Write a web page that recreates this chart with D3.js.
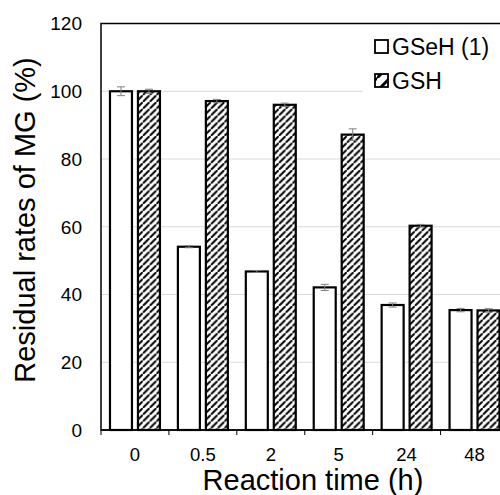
<!DOCTYPE html>
<html>
<head>
<meta charset="utf-8">
<script src="https://cdn.jsdelivr.net/npm/d3@7"></script>
<style>
    body { margin: 0; background: #fff; }
    text { font-family: Arial, 'Liberation Sans', sans-serif; fill: #000; }
</style>
</head>
<body>
<svg id="chart"></svg>
<script>
let categories = ['0', '0.5', '2', '5', '24', '48'];
let seriesNames = ['GSeH (1)', 'GSH'];
let gseh = [100, 54.1, 46.8, 42.1, 36.9, 35.4];
let gsh = [100, 97.1, 96.0, 87.2, 60.3, 35.3];
let gsehErr = [1.3, 0.3, 0.3, 0.9, 0.6, 0.5];
let gshErr = [0.6, 0.5, 0.5, 1.7, 0.4, 0.5];
let yTicks = [0, 20, 40, 60, 80, 100, 120];

let width = 500, height = 495;
let svg = d3.select('#chart').attr('width', width).attr('height', height);

let plot = {left: 101, right: 508.5, top: 23.5, bottom: 430};

let defs = svg.append('defs');
function addHatch(id, size, sw) {
    let p = defs.append('pattern')
        .attr('id', id)
        .attr('patternUnits', 'userSpaceOnUse')
        .attr('width', size)
        .attr('height', size);
    p.append('rect').attr('width', size).attr('height', size).attr('fill', '#fff');
    p.append('path')
        .attr('d', 'M-1,' + (size + 1) + ' L' + (size + 1) + ',-1 M-2,1 L1,-2 M' + (size - 1) + ',' + (size + 2) + ' L' + (size + 2) + ',' + (size - 1))
        .attr('stroke', '#000')
        .attr('stroke-width', sw);
}
addHatch('hatch', 6.8, 2);
addHatch('hatchLegend', 13, 3);

let x = d3.scaleBand().domain(categories).range([plot.left, plot.right]).padding(0);
let xInner = d3.scaleBand().domain(seriesNames).range([0, x.bandwidth()])
    .paddingInner(0.214).paddingOuter(0.321);
let y = d3.scaleLinear().domain([0, 120]).range([plot.bottom, plot.top]);

// gridlines
svg.append('g').selectAll('line')
    .data(yTicks.filter(t => t > 0 && t < 120))
    .enter().append('line')
    .attr('x1', plot.left).attr('x2', width)
    .attr('y1', d => y(d)).attr('y2', d => y(d))
    .attr('stroke', '#d9d9d9').attr('stroke-width', 1.2);

// plot border
svg.append('rect')
    .attr('x', plot.left).attr('y', plot.top)
    .attr('width', plot.right - plot.left).attr('height', plot.bottom - plot.top)
    .attr('fill', 'none').attr('stroke', '#000').attr('stroke-width', 1.5);

let series = [
    {name: seriesNames[0], values: gseh, errors: gsehErr, fill: '#fff', legendFill: '#fff'},
    {name: seriesNames[1], values: gsh, errors: gshErr, fill: 'url(#hatch)', legendFill: 'url(#hatchLegend)'}
];

let bars = svg.append('g');
series.forEach(s => {
    let g = bars.append('g');
    g.selectAll('rect')
        .data(categories)
        .enter().append('rect')
        .attr('x', (c) => x(c) + xInner(s.name))
        .attr('y', (c, i) => y(s.values[i]))
        .attr('width', xInner.bandwidth())
        .attr('height', (c, i) => y(0) - y(s.values[i]))
        .attr('fill', s.fill)
        .attr('stroke', '#000')
        .attr('stroke-width', 2.2);

    let eb = g.selectAll('.err')
        .data(categories)
        .enter().append('g')
        .attr('class', 'err')
        .attr('stroke', '#7f7f7f')
        .attr('stroke-width', 1);
    eb.append('line')
        .attr('x1', c => x(c) + xInner(s.name) + xInner.bandwidth() / 2)
        .attr('x2', c => x(c) + xInner(s.name) + xInner.bandwidth() / 2)
        .attr('y1', (c, i) => y(s.values[i] + s.errors[i]))
        .attr('y2', (c, i) => y(s.values[i] - s.errors[i]));
    [1, -1].forEach(sign => {
        eb.append('line')
            .attr('x1', c => x(c) + xInner(s.name) + xInner.bandwidth() / 2 - 4)
            .attr('x2', c => x(c) + xInner(s.name) + xInner.bandwidth() / 2 + 4)
            .attr('y1', (c, i) => y(s.values[i] + sign * s.errors[i]))
            .attr('y2', (c, i) => y(s.values[i] + sign * s.errors[i]));
    });
});

// x axis line and ticks
svg.append('line')
    .attr('x1', plot.left).attr('x2', width)
    .attr('y1', plot.bottom).attr('y2', plot.bottom)
    .attr('stroke', '#000').attr('stroke-width', 1.5);
svg.append('g').selectAll('line')
    .data(categories)
    .enter().append('line')
    .attr('x1', c => x(c)).attr('x2', c => x(c))
    .attr('y1', plot.bottom).attr('y2', plot.bottom + 5)
    .attr('stroke', '#000').attr('stroke-width', 1);

svg.append('g').selectAll('text')
    .data(categories)
    .enter().append('text')
    .attr('x', c => x(c) + x.bandwidth() / 2)
    .attr('y', 460.5)
    .attr('text-anchor', 'middle')
    .style('font-size', '18.5px')
    .text(c => c);

svg.append('g').selectAll('text')
    .data(yTicks)
    .enter().append('text')
    .attr('x', 82)
    .attr('y', d => y(d) + 6.8)
    .attr('text-anchor', 'end')
    .style('font-size', '19px')
    .text(d => d);

// axis titles
svg.append('text')
    .attr('transform', 'translate(35,220) rotate(-90)')
    .attr('text-anchor', 'middle')
    .style('font-size', '29px')
    .text('Residual rates of MG (%)');

svg.append('text')
    .attr('x', 313)
    .attr('y', 490)
    .attr('text-anchor', 'middle')
    .style('font-size', '29px')
    .text('Reaction time (h)');

// legend
let legend = svg.append('g');
legend.append('rect')
    .attr('x', 363).attr('y', 28)
    .attr('width', width - 363).attr('height', 70)
    .attr('fill', '#fff');
series.forEach((s, i) => {
    let ly = 40 + i * 34;
    legend.append('rect')
        .attr('x', 375).attr('y', ly)
        .attr('width', 13).attr('height', 13)
        .attr('fill', s.legendFill)
        .attr('stroke', '#000')
        .attr('stroke-width', 1.8);
    legend.append('text')
        .attr('x', 392)
        .attr('y', ly + 14.5)
        .style('font-size', '23px')
        .text(s.name);
});
</script>
</body>
</html>
